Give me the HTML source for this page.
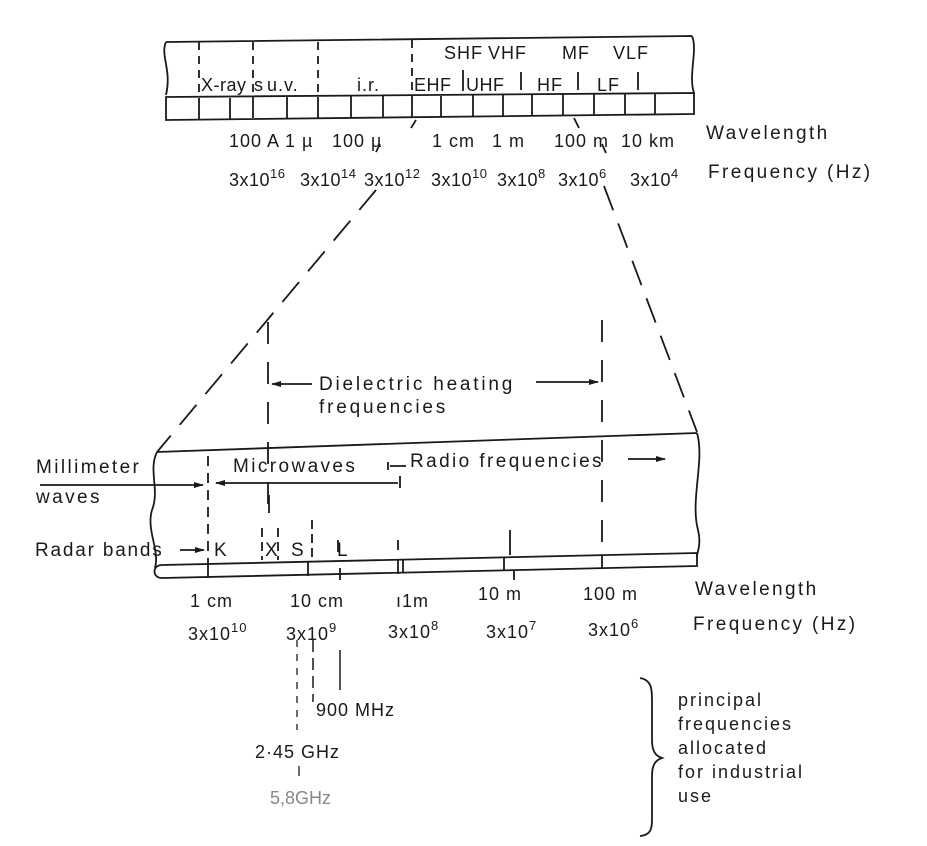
<!DOCTYPE html>
<html><head><style>
html,body{margin:0;padding:0;background:#fff;}
svg{display:block;}
text{font-family:"Liberation Sans",sans-serif;fill:#1a1a1a;}
.s1{letter-spacing:1px}.s0{letter-spacing:0.5px}.s2{letter-spacing:2.4px}.s3{letter-spacing:2.8px}
</style></head><body>
<svg width="927" height="846" viewBox="0 0 927 846" xmlns="http://www.w3.org/2000/svg">
<defs>
<marker id="ar" markerWidth="10" markerHeight="8" refX="9" refY="4" orient="auto" markerUnits="userSpaceOnUse"><path d="M0,1 L10,4 L0,7 Z" fill="#1a1a1a"/></marker>
</defs>
<g stroke="#1a1a1a" stroke-width="1.8" fill="none">
<path d="M166,42 L692,36 M166,42 C160,55 172,70 166,95 M692,36 C698,50 688,75 694,93"/>
<path d="M166,97 L694,93 L694,114 L166,120 Z"/>
<path d="M199,98v21 M230,98v21 M253,97v21 M287,97v21 M318,97v21 M351,96v21 M383,96v21 M412,96v21 M441,96v21 M473,95v21 M503,95v21 M532,95v21 M563,94v21 M594,94v21 M625,94v21 M655,94v21"/>
<path d="M199,42v55 M253,42v55 M318,42v55 M412,40v56" stroke-dasharray="8,6"/>
<path d="M463,70v21" />
<path d="M521,72v18 M578,72v18 M638,72v18" />
<path d="M416,120l-5,8 M574,118l5,10 M380,144l-4,8 M602,144l4,9"/>
<path d="M376,190 L157,452" stroke-dasharray="26,14"/>
<path d="M604,186 L697,432" stroke-dasharray="26,14"/>
<path d="M268,322 V512" stroke-dasharray="22,18"/>
<path d="M602,320 V560" stroke-dasharray="22,18"/>
<path d="M312,384 H272" marker-end="url(#ar)"/>
<path d="M536,382 H598" marker-end="url(#ar)"/>
<path d="M157,452 L697,433"/>
<path d="M157,452 C148,470 160,490 152,510 C146,530 160,550 155,568"/>
<path d="M697,433 C705,460 690,500 698,530 C702,545 696,555 697,557"/>
<path d="M162,565 L697,553 L697,566 L162,578 C152,578 152,565 162,565 Z"/>
<path d="M208,564v14 M308,562v14 M398,560v14 M403,559v14 M504,557v14 M602,555v14"/>
<path d="M208,456 V565" stroke-dasharray="10,7"/>
<path d="M262,528v32 M278,528v32 M312,520v40" stroke-dasharray="9,5"/>
<path d="M269,495v18 M338,540v12 M398,540v10 M510,530v25"/>
<path d="M340,568v12 M514,570v10"/>
<path d="M40,485 H203" marker-end="url(#ar)"/>
<path d="M398,483 H216" marker-end="url(#ar)"/>
<path d="M400,476v12 M388,462v8 M390,466h16"/>
<path d="M628,459 H665" marker-end="url(#ar)"/>
<path d="M180,550 H204" marker-end="url(#ar)"/>
<path d="M297,640 V730" stroke-dasharray="7,7" stroke-width="1.3"/>
<path d="M313,640 V702" stroke-dasharray="12,6" stroke-width="1.5"/>
<path d="M340,650 V690" stroke-width="1.5"/>
<path d="M299,766v10" stroke-width="1.3"/>
<path d="M640,678 C652,680 652,690 652,700 V740 C652,752 656,756 662,758 C656,760 652,764 652,776 V820 C652,830 650,835 640,836"/>
</g>
<g font-size="18">
<g class="s1"><text x="444" y="59">SHF</text><text x="488" y="59">VHF</text><text x="562" y="59">MF</text><text x="613" y="59">VLF</text></g>
<text x="201" y="91" class="s0">X-ray</text><text x="254" y="91">s</text><text x="267" y="91" class="s1">u.v.</text><text x="357" y="91" class="s1">i.r.</text>
<text x="414" y="91" class="s0">EHF</text><text x="466" y="91" class="s0">UHF</text><text x="537" y="91" class="s1">HF</text><text x="597" y="91" class="s1">LF</text>
<g class="s1"><text x="229" y="147">100 A</text><text x="285" y="147">1 µ</text><text x="332" y="147">100 µ</text><text x="432" y="147">1 cm</text><text x="492" y="147">1 m</text><text x="554" y="147">100 m</text><text x="621" y="147">10 km</text></g>
<text x="706" y="139" font-size="19" class="s2">Wavelength</text>
<g class="s0">
<text x="229" y="186">3x10<tspan font-size="13" dy="-8">16</tspan></text>
<text x="300" y="186">3x10<tspan font-size="13" dy="-8">14</tspan></text>
<text x="364" y="186">3x10<tspan font-size="13" dy="-8">12</tspan></text>
<text x="431" y="186">3x10<tspan font-size="13" dy="-8">10</tspan></text>
<text x="497" y="186">3x10<tspan font-size="13" dy="-8">8</tspan></text>
<text x="558" y="186">3x10<tspan font-size="13" dy="-8">6</tspan></text>
<text x="630" y="186">3x10<tspan font-size="13" dy="-8">4</tspan></text>
</g>
<text x="708" y="178" font-size="19" class="s2">Frequency (Hz)</text>
<text x="319" y="390" font-size="19" class="s3">Dielectric heating</text>
<text x="319" y="413" font-size="19" class="s3">frequencies</text>
<text x="36" y="473" font-size="19" class="s2">Millimeter</text>
<text x="36" y="503" font-size="19" class="s2">waves</text>
<text x="233" y="472" font-size="19" class="s2">Microwaves</text>
<text x="410" y="467" font-size="19" class="s2">Radio frequencies</text>
<text x="35" y="556" font-size="19" style="letter-spacing:1.8px">Radar bands</text>
<text x="214" y="556" font-size="19">K</text><text x="265" y="556" font-size="19">X</text><text x="291" y="556" font-size="19">S</text><text x="337" y="556" font-size="19">L</text>
<g class="s1"><text x="190" y="607">1 cm</text><text x="290" y="607">10 cm</text><text x="396" y="607">ı1m</text><text x="478" y="600">10 m</text><text x="583" y="600">100 m</text></g>
<text x="695" y="595" font-size="19" class="s2">Wavelength</text>
<g class="s1">
<text x="188" y="640">3x10<tspan font-size="13" dy="-8">10</tspan></text>
<text x="286" y="640">3x10<tspan font-size="13" dy="-8">9</tspan></text>
<text x="388" y="638">3x10<tspan font-size="13" dy="-8">8</tspan></text>
<text x="486" y="638">3x10<tspan font-size="13" dy="-8">7</tspan></text>
<text x="588" y="636">3x10<tspan font-size="13" dy="-8">6</tspan></text>
</g>
<text x="693" y="630" font-size="19" class="s2">Frequency (Hz)</text>
<text x="316" y="716" class="s1">900 MHz</text>
<text x="255" y="758" class="s1">2·45 GHz</text>
<text x="270" y="804" style="fill:#888">5,8GHz</text>
<g font-size="18" style="letter-spacing:2px"><text x="678" y="706">principal</text><text x="678" y="730">frequencies</text><text x="678" y="754">allocated</text><text x="678" y="778">for industrial</text><text x="678" y="802">use</text></g>
</g>
</svg>
</body></html>
